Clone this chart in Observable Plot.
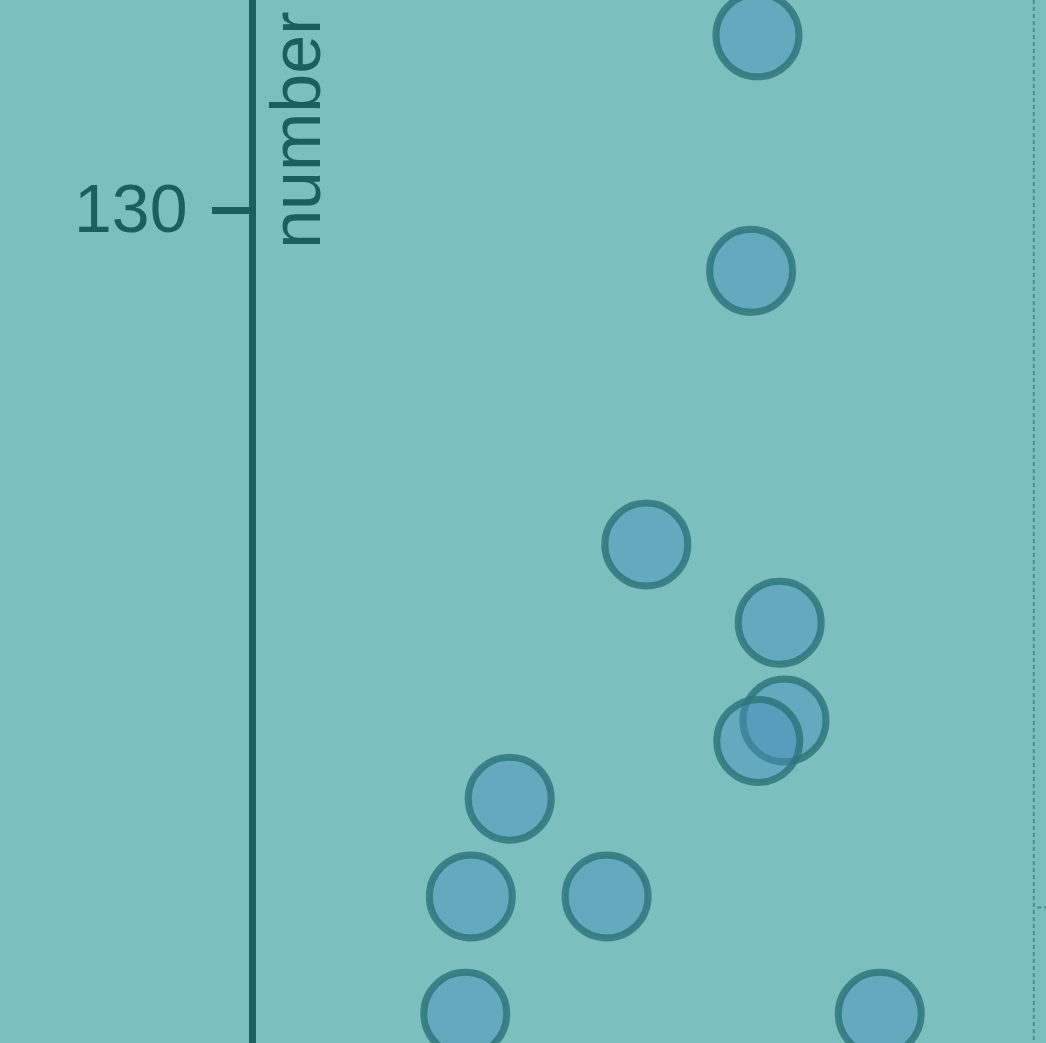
<!DOCTYPE html>
<html>
<head>
<meta charset="utf-8">
<script src="https://cdn.jsdelivr.net/npm/d3@7"></script>
<script src="https://cdn.jsdelivr.net/npm/@observablehq/plot@0.6"></script>
<style>
  body { margin: 0; background: #7bbfbf; }
  #chart svg { display: block; }
</style>
</head>
<body>
<div id="chart"></div>
<script>
// valores
const xs = [6.36, 6.28, 4.96, 6.64, 6.70, 6.37, 3.24, 2.75, 4.46, 2.68, 7.90]
const ys = [132.06, 129.29, 126.07, 125.15, 124.0, 123.76, 123.08, 121.93, 121.93, 120.55, 120.55]
const yTicks = [130]
const ruleXs = [9.84]
const ruleYs = [121.80]

const data = xs.map((x, i) => ({ x, number: ys[i] }))

const ink = "#1b5f5f"

let chart = Plot.plot({
    marks: [
        Plot.ruleX(ruleXs, { stroke: "#468c8c", strokeWidth: 1.8, strokeDasharray: "4,3" }),
        Plot.ruleY(ruleYs, { x1: 9.89, x2: 10, stroke: "#468c8c", strokeWidth: 1.8, strokeDasharray: "4,3" }),
        Plot.dot(data, {
            x: "x", y: "number", r: 41.5,
            fill: "#4a8fba", fillOpacity: 0.45,
            stroke: "#2a7378", strokeOpacity: 0.8, strokeWidth: 7
        }),
        Plot.ruleX([0], { stroke: ink, strokeWidth: 7 }),
        Plot.axisY({
            ticks: yTicks, tickSize: 40, tickPadding: 25,
            stroke: ink, strokeWidth: 7, fill: ink,
            fontSize: 68, label: null
        }),
        Plot.text(["number"], {
            frameAnchor: "top-left", rotate: -90, textAnchor: "end", lineAnchor: "bottom",
            dx: 67, dy: 11, fontSize: 70, fill: ink
        })
    ],
    x: { domain: [0, 10], axis: null },
    y: { domain: [120.2, 132.47], axis: null },
    style: {
        background: "#7bbfbf",
        fontFamily: "'Liberation Sans', Arial, sans-serif",
        overflow: "hidden"
    },
    width: 1046,
    height: 1043,
    marginLeft: 252,
    marginRight: 0,
    marginTop: 0,
    marginBottom: 0
})

d3.select('#chart').append(() => chart)
</script>
</body>
</html>
